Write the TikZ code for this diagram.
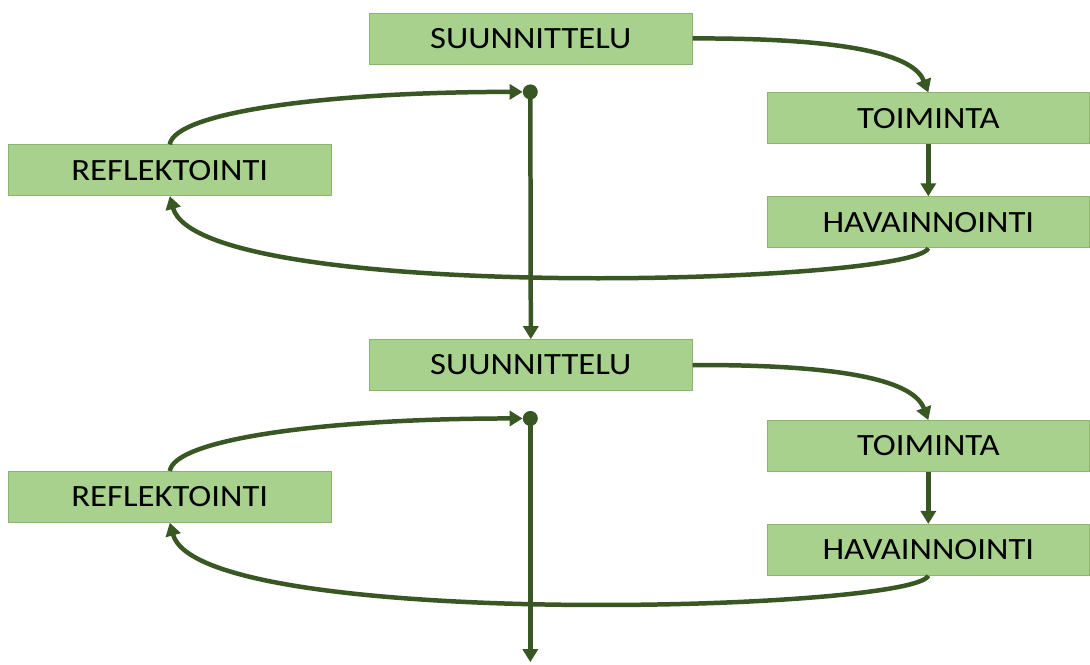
\documentclass[tikz,border=0pt]{standalone}
\usepackage{fontspec}
\setmainfont{Carlito}
\newfontfamily\boxfont[FakeStretch=1.12]{Carlito}
\usepackage{xcolor}
\definecolor{boxfill}{RGB}{169,209,142}
\definecolor{boxline}{RGB}{140,180,110}
\definecolor{flowgreen}{RGB}{56,87,35}
\usetikzlibrary{arrows.meta}

\tikzset{
  stagebox/.style={draw=boxline, fill=boxfill, line width=0.8pt, minimum height=51pt,
    font=\boxfont\fontsize{31}{34}\selectfont, text=black, inner sep=0pt},
  wide/.style={minimum width=323pt},
  flow/.style={draw=flowgreen, line width=4.5pt, -{Triangle[length=13pt,width=15pt]}},
  knot/.style={circle, fill=flowgreen, inner sep=0pt, minimum size=15pt}
}

\begin{document}
\begin{tikzpicture}[x=1pt, y=-1pt]
  \fill[white] (0,0) rectangle (1090,664);

  % --- First cycle ---
  \node[stagebox, wide] (suun1) at (531.5,38.5) {SUUNNITTELU};
  \node[stagebox, wide] (toim1) at (929.5,118.5) {TOIMINTA};
  \node[stagebox, wide] (hav1) at (929.5,222.5) {HAVAINNOINTI};
  \node[stagebox, wide] (refl1) at (170,170.5) {REFLEKTOINTI};
  \node[knot] (dot1) at (531,92) {};

  \draw[flow] (suun1.east) .. controls (850,38) and (915,55) .. (toim1.north);
  \draw[flow] (toim1) -- (hav1);
  \draw[flow] (hav1.south) .. controls (915,285) and (200,305) .. (refl1.south);
  \draw[flow] (refl1.north) .. controls (175,112) and (330,92) .. (dot1.west);

  % --- Second cycle ---
  \node[stagebox, wide] (suun2) at (531.5,365.5) {SUUNNITTELU};
  \node[stagebox, wide] (toim2) at (929.5,446.5) {TOIMINTA};
  \node[stagebox, wide] (hav2) at (929.5,550.5) {HAVAINNOINTI};
  \node[stagebox, wide] (refl2) at (170,497.5) {REFLEKTOINTI};
  \node[knot] (dot2) at (531,419) {};
  \coordinate (out) at (531,663);

  \draw[flow] (dot1.center) -- (suun2.north);
  \draw[flow] (suun2.east) .. controls (850,365) and (915,382) .. (toim2.north);
  \draw[flow] (toim2) -- (hav2);
  \draw[flow] (hav2.south) .. controls (915,612) and (200,632) .. (refl2.south);
  \draw[flow] (refl2.north) .. controls (175,439) and (330,419) .. (dot2.west);
  \draw[flow] (dot2.center) -- (out);
\end{tikzpicture}
\end{document}
